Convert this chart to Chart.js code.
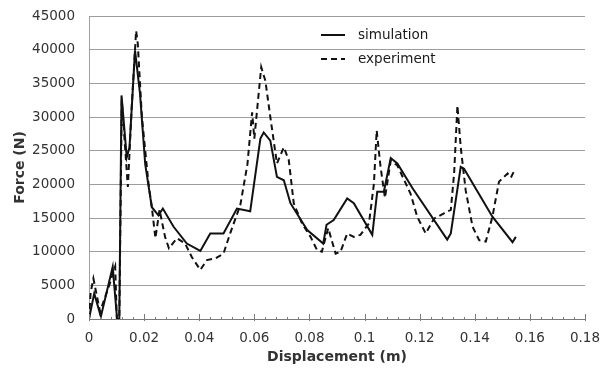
<!DOCTYPE html>
<html>
<head>
<meta charset="utf-8">
<script src="https://cdn.jsdelivr.net/npm/chart.js@4"></script>
<style>
  html, body { margin: 0; padding: 0; background: #fff; }
  #wrap { width: 601px; height: 374px; }
</style>
</head>
<body>
<div id="wrap"><canvas id="forceChart" width="601" height="374"></canvas></div>
<script>
// displacement (m) / force (N)
const simX = [0, 0.0019, 0.0043, 0.0086, 0.0102, 0.0110, 0.0118, 0.0137, 0.0147, 0.0167, 0.0185, 0.0204, 0.0228,
  0.0252, 0.0268, 0.0307, 0.0355, 0.0404, 0.0440, 0.0488, 0.0537, 0.0585, 0.0622, 0.0634, 0.0658, 0.0682,
  0.0707, 0.0731, 0.0792, 0.0850, 0.0862, 0.0888, 0.0937, 0.0961, 0.1028, 0.1046, 0.1070, 0.1095, 0.1119,
  0.1173, 0.1300, 0.1313, 0.1349, 0.1361, 0.1464, 0.1537, 0.1549];
const simY = [0, 3800, 350, 7750, 0, 0, 33200, 24000, 25500, 39900, 33500, 23000, 16600,
  15400, 16400, 13700, 11200, 10100, 12700, 12700, 16400, 16000, 26800, 27700, 26500, 21100,
  20600, 17200, 13200, 11200, 14000, 14700, 17900, 17200, 12500, 18900, 18900, 23900, 23100,
  19500, 11800, 12700, 22600, 22300, 15200, 11400, 12200];

const expX = [0, 0.0006, 0.0016, 0.0040, 0.0076, 0.0083, 0.0095, 0.0101, 0.0110, 0.0119, 0.0141, 0.0155, 0.0171,
  0.0177, 0.0192, 0.0216, 0.0228, 0.0241, 0.0256, 0.0276, 0.0290, 0.0319, 0.0349, 0.0373, 0.0404, 0.0428,
  0.0458, 0.0488, 0.0513, 0.0549, 0.0575, 0.0592, 0.0600, 0.0625, 0.0640, 0.0658, 0.0682, 0.0707, 0.0725,
  0.0743, 0.0773, 0.0804, 0.0828, 0.0845, 0.0868, 0.0895, 0.0913, 0.0937, 0.0961, 0.0985, 0.1016, 0.1034,
  0.1044, 0.1058, 0.1074, 0.1095, 0.1119, 0.1167, 0.1191, 0.1222, 0.1252, 0.1288, 0.1313, 0.1325, 0.1337,
  0.1349, 0.1367, 0.1392, 0.1416, 0.1440, 0.1464, 0.1488, 0.1519, 0.1531, 0.1543];
const expY = [0, 3900, 6000, 1100, 5300, 6300, 7800, 0, 0, 32500, 19600, 31500, 42800,
  40900, 30000, 20100, 16600, 12000, 16200, 12200, 10500, 12000, 11200, 9200, 7300, 8750,
  9000, 9700, 12800, 16900, 23000, 30700, 26800, 37400, 35400, 30000, 23100, 25500, 23600,
  17200, 14200, 12200, 10200, 10000, 13500, 9700, 10000, 12700, 12200, 12500, 14200, 20100,
  28000, 22600, 18000, 23500, 22800, 18600, 15200, 12700, 14900, 15700, 16200, 21600, 31700,
  25500, 19100, 13700, 11700, 11500, 15200, 20400, 21600, 21000, 22000];

const seriesNames = ['simulation', 'experiment'];
const xTicks = [0, 0.02, 0.04, 0.06, 0.08, 0.1, 0.12, 0.14, 0.16, 0.18];
const yTicks = [0, 5000, 10000, 15000, 20000, 25000, 30000, 35000, 40000, 45000];

const toPoints = (xs, ys) => xs.map((x, i) => ({ x: x, y: ys[i] }));

// small tick marks on the x axis (majors every 0.02, minors every 0.004)
const axisTicks = {
  id: 'axisTicks',
  afterDraw(chart) {
    const { ctx, scales: { x } } = chart;
    const y0 = x.top;
    ctx.save();
    ctx.strokeStyle = '#7a7a7a';
    ctx.lineWidth = 1;
    for (let i = 0; i <= 45; i++) {
      const px = Math.round(x.getPixelForValue(i * 0.004)) + 0.5;
      const major = i % 5 === 0;
      ctx.beginPath();
      ctx.moveTo(px, y0 - (major ? 5 : 2));
      ctx.lineTo(px, y0 + (major ? 2 : 1));
      ctx.stroke();
    }
    ctx.restore();
  }
};

// legend drawn inside the plot, top right
const innerLegend = {
  id: 'innerLegend',
  afterDraw(chart) {
    const { ctx, chartArea } = chart;
    const lx = chartArea.left + 232;
    ctx.save();
    ctx.font = '13.5px "DejaVu Sans"';
    ctx.fillStyle = '#1a1a1a';
    ctx.textBaseline = 'middle';
    chart.data.datasets.forEach((ds, i) => {
      const ly = chartArea.top + 19 + i * 24;
      ctx.strokeStyle = ds.borderColor;
      ctx.lineWidth = 2;
      ctx.setLineDash(ds.borderDash || []);
      ctx.beginPath();
      ctx.moveTo(lx, ly);
      ctx.lineTo(lx + 24, ly);
      ctx.stroke();
      ctx.setLineDash([]);
      ctx.fillText(ds.label, lx + 37, ly);
    });
    ctx.restore();
  }
};

new Chart(document.getElementById('forceChart'), {
  type: 'line',
  data: {
    datasets: [
      {
        label: seriesNames[0],
        data: toPoints(simX, simY),
        borderColor: '#111',
        borderWidth: 2,
        pointRadius: 0,
        tension: 0,
        fill: false
      },
      {
        label: seriesNames[1],
        data: toPoints(expX, expY),
        borderColor: '#111',
        borderWidth: 2,
        borderDash: [6, 4],
        pointRadius: 0,
        tension: 0,
        fill: false
      }
    ]
  },
  options: {
    responsive: false,
    animation: false,
    layout: { padding: { top: 16, right: 16, left: 0, bottom: 0 } },
    plugins: {
      legend: { display: false },
      tooltip: { enabled: false }
    },
    scales: {
      x: {
        type: 'linear',
        min: 0,
        max: 0.18,
        afterFit: s => { s.height = 55; s.paddingLeft = 0; s.paddingRight = 0; },
        afterBuildTicks: s => { s.ticks = xTicks.map(v => ({ value: v })); },
        grid: { display: false },
        border: { display: true, color: '#7a7a7a', width: 1 },
        ticks: {
          color: '#333',
          padding: 3,
          maxRotation: 0,
          font: { size: 13.5, family: 'DejaVu Sans' },
          callback: v => String(Number(v.toFixed(2)))
        },
        title: {
          display: true,
          text: 'Displacement (m)',
          color: '#333',
          font: { size: 14, weight: 'bold', family: 'DejaVu Sans' },
          padding: { top: 0, bottom: 8 }
        }
      },
      y: {
        min: 0,
        max: 45000,
        afterFit: s => { s.width = 89; s.paddingTop = 0; s.paddingBottom = 0; },
        afterBuildTicks: s => { s.ticks = yTicks.map(v => ({ value: v })); },
        grid: { color: '#9c9c9c', lineWidth: 1, drawTicks: false },
        border: { display: true, color: '#a0a0a0', width: 1 },
        ticks: {
          color: '#333',
          padding: 14,
          font: { size: 13.5, family: 'DejaVu Sans' },
          callback: v => String(v)
        },
        title: {
          display: true,
          text: 'Force (N)',
          color: '#333',
          font: { size: 14, weight: 'bold', family: 'DejaVu Sans' },
          padding: { top: 12, bottom: 0 }
        }
      }
    }
  },
  plugins: [axisTicks, innerLegend]
});
</script>
</body>
</html>
